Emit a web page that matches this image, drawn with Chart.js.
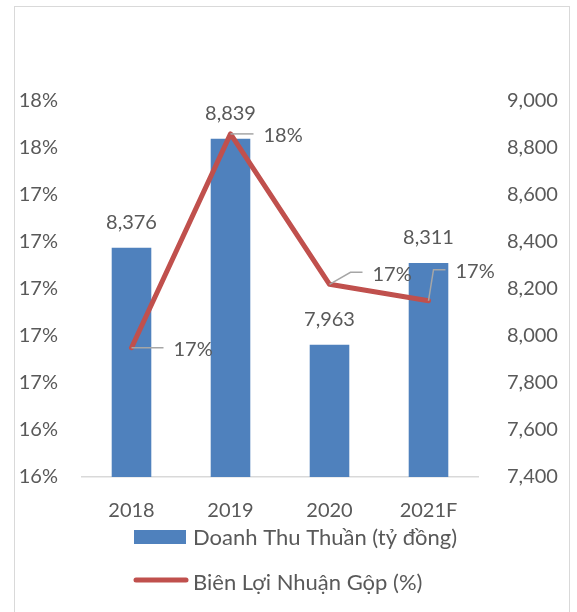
<!DOCTYPE html>
<html>
<head>
<meta charset="utf-8">
<script src="https://cdn.jsdelivr.net/npm/chart.js@4.4.0/dist/chart.umd.min.js"></script>
<style>
	html, body { margin: 0; padding: 0; background: #fff; }
	canvas { display: block; }
</style>
</head>
<body>
<canvas id="myChart" width="577" height="612"></canvas>
<script>
'use strict';

var years = ['2018', '2019', '2020', '2021F'];
var revenue = [8376, 8839, 7963, 8311];            // Doanh Thu Thuần (tỷ đồng)
var grossMargin = [16.75, 17.66, 17.02, 16.95];    // Biên Lợi Nhuận Gộp (%)
var leftTickLabels = ['16%', '16%', '17%', '17%', '17%', '17%', '17%', '18%', '18%'];
var rightTickLabels = ['7,400', '7,600', '7,800', '8,000', '8,200', '8,400', '8,600', '8,800', '9,000'];

(function () {

	var fontFamily = "Lato, 'Open Sans', sans-serif";
	var textColor = '#595959';
	var barColor = '#4F81BD';
	var lineColor = '#C0504D';

	// leader lines of the % labels, relative to each line point
	var leaders = [
		[[0, 0], [32, 0]],
		[[0, 0], [23, 0]],
		[[0, 0], [21, -12], [33, -12]],
		[[0, 0], [5, -31], [17, -31]]
	];

	var framePlugin = {
		id: 'frame',
		beforeDraw: function (chart) {
			var ctx = chart.ctx;
			ctx.save();
			ctx.fillStyle = '#fff';
			ctx.fillRect(0, 0, chart.width, chart.height);
			ctx.strokeStyle = '#D9D9D9';
			ctx.lineWidth = 1;
			ctx.strokeRect(14.5, 6.5, 555, 640);
			ctx.restore();
		}
	};

	var labelPlugin = {
		id: 'valueLabels',
		afterDatasetsDraw: function (chart) {
			var ctx = chart.ctx;
			ctx.save();
			ctx.font = '20px ' + fontFamily;
			ctx.fillStyle = textColor;
			ctx.textBaseline = 'middle';

			ctx.textAlign = 'center';
			chart.getDatasetMeta(1).data.forEach(function (bar, i) {
				ctx.fillText(revenue[i].toLocaleString('en-US'), bar.x, bar.y - 25);
			});

			ctx.textAlign = 'left';
			chart.getDatasetMeta(0).data.forEach(function (pt, i) {
				var path = leaders[i];
				ctx.strokeStyle = '#A6A6A6';
				ctx.lineWidth = 1.5;
				ctx.beginPath();
				path.forEach(function (p, j) {
					if (j === 0) ctx.moveTo(pt.x + p[0], pt.y + p[1]);
					else ctx.lineTo(pt.x + p[0], pt.y + p[1]);
				});
				ctx.stroke();
				var end = path[path.length - 1];
				ctx.fillText(Math.round(grossMargin[i]) + '%', pt.x + end[0] + 10, pt.y + end[1] + 2);
			});
			ctx.restore();
		}
	};

	var legendPlugin = {
		id: 'sideLegend',
		afterDraw: function (chart) {
			var ctx = chart.ctx;
			var sets = chart.data.datasets;
			ctx.save();
			ctx.font = '22px ' + fontFamily;
			ctx.fillStyle = textColor;
			ctx.textBaseline = 'middle';
			ctx.textAlign = 'left';

			ctx.fillStyle = sets[1].backgroundColor;
			ctx.fillRect(134, 530, 52, 14);
			ctx.fillStyle = textColor;
			ctx.fillText(sets[1].label, 193, 538);

			ctx.strokeStyle = sets[0].borderColor;
			ctx.lineWidth = 5;
			ctx.lineCap = 'round';
			ctx.beginPath();
			ctx.moveTo(136, 580);
			ctx.lineTo(186, 580);
			ctx.stroke();
			ctx.fillText(sets[0].label, 193, 583);
			ctx.restore();
		}
	};

	var ctx = document.getElementById('myChart').getContext('2d');
	var myChart = new Chart(ctx, {
		type: 'bar',
		data: {
			labels: years,
			datasets: [{
				type: 'line',
				label: 'Biên Lợi Nhuận Gộp (%)',
				data: grossMargin,
				yAxisID: 'yL',
				borderColor: lineColor,
				backgroundColor: lineColor,
				borderWidth: 5,
				borderCapStyle: 'round',
				borderJoinStyle: 'round',
				pointRadius: 0,
				tension: 0,
				order: 0
			}, {
				label: 'Doanh Thu Thuần (tỷ đồng)',
				data: revenue,
				yAxisID: 'yR',
				backgroundColor: barColor,
				barPercentage: 1,
				categoryPercentage: 0.4,
				order: 1
			}]
		},
		options: {
			responsive: false,
			animation: false,
			devicePixelRatio: 1,
			layout: { padding: { top: 101, left: 14, right: 0, bottom: 95 } },
			plugins: {
				legend: { display: false },
				tooltip: { enabled: false }
			},
			scales: {
				x: {
					grid: { display: false, drawTicks: false },
					border: { display: true, color: '#D9D9D9', width: 1.5 },
					ticks: { color: textColor, font: { family: fontFamily, size: 20 }, padding: 22 },
					afterFit: function (scale) { scale.height = 40; }
				},
				yL: {
					position: 'left',
					min: 16.2,
					max: 17.8,
					grid: { display: false, drawTicks: false },
					border: { display: false },
					ticks: {
						stepSize: 0.2,
						padding: 24,
						color: textColor,
						font: { family: fontFamily, size: 20 },
						callback: function (value, index) { return leftTickLabels[index]; }
					},
					afterFit: function (scale) { scale.width = 68; }
				},
				yR: {
					position: 'right',
					min: 7400,
					max: 9000,
					grid: { display: false, drawTicks: false },
					border: { display: false },
					ticks: {
						stepSize: 200,
						padding: 29,
						color: textColor,
						font: { family: fontFamily, size: 20 },
						callback: function (value, index) { return rightTickLabels[index]; }
					},
					afterFit: function (scale) { scale.width = 99; }
				}
			}
		},
		plugins: [framePlugin, labelPlugin, legendPlugin]
	});
})();
</script>
</body>
</html>
